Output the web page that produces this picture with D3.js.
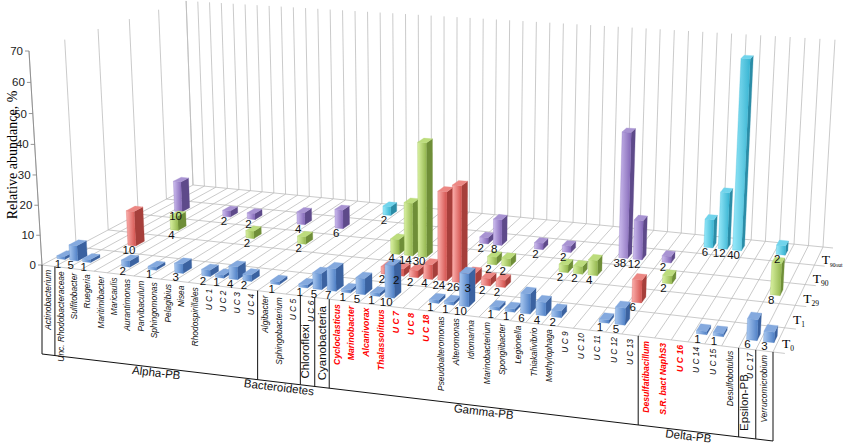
<!DOCTYPE html>
<html>
<head>
<meta charset="utf-8">
<script src="https://cdn.jsdelivr.net/npm/d3@7"></script>
<style>
  body { margin: 0; background: #fff; }
  svg { display: block; font-family: "Liberation Sans", Arial, sans-serif; }
</style>
</head>
<body>
<div id="chart"></div>
<script>
// ========================
// Data
// ========================
const categories = ["Actinobacterium", "Unc. Rhodobacteraceae", "Sulfitobacter", "Ruegeria", "Maritimibacter",
  "Maricaulis", "Aurantimonas", "Parvibaculum", "Sphingomonas", "Pelagibius", "Nisea", "Rhodospirillales",
  "U C 1", "U C 2", "U C 3", "U C 4", "Algibacter", "Sphingobacterium", "U C 5", "U C 6", "",
  "Cycloclasticus", "Marinobacter", "Alcanivorax", "Thalassolituus", "U C 7", "U C 8", "U C 18",
  "Pseudoalteromonas", "Alteromonas", "Idiomarina", "Marinobacterium", "Spongiibacter", "Legionella",
  "Thiakalivibrio", "Methylophaga", "U C 9", "U C 10", "U C 11", "U C 12", "U C 13",
  "Desulfatibacillum", "S.R. bact NaphS3", "U C 16", "U C 14", "U C 15", "Desulfobotulus", "U C 17",
  "Verrucomicrobium"];

const highlighted = ["Cycloclasticus", "Marinobacter", "Alcanivorax", "Thalassolituus", "U C 7", "U C 8",
  "U C 18", "Desulfatibacillum", "S.R. bact NaphS3", "U C 16"];

const seriesNames = ["T0", "T1", "T29", "T90", "T90out"];
const seriesSub = ["0", "1", "29", "90", "90out"];

// numbers written on the bars
const countT0 = [1,5,1,0,0,2,0,1,0,3, 0,2,1,4,2,0,1,0,1,5, 7,1,5,1,10,0,0,1,1,10, 0,1,1,6,4,2,0,0,1,5, 0,0,0,0,1,1,0,6,3];
const countT1 = [0,0,0,10,0,0,0,0,0,0, 0,0,0,0,0,0,0,0,0,0, 0,0,2,2,2,4,24,26,3,2, 2,0,0,0,0,0,0,0,0,6, 0,0,0,0,0,0,0,0,0];
const countT29 = [0,0,0,0,4,0,0,0,0,0, 2,0,0,0,2,0,0,0,0,0, 0,4,14,30,0,0,0,0,2,2, 0,0,0,2,2,4,0,0,0,0, 2,0,0,0,0,0,0,8,0];
const countT90 = [0,0,10,0,0,0,2,0,2,0, 0,0,4,0,0,6,0,0,0,0, 0,0,0,0,0,0,2,8,0,0, 2,0,2,0,0,0,38,12,0,2, 0,0,0,0,0,0,0,0,0];
const countT90out = [0,0,0,0,0,0,0,0,0,0, 0,0,0,0,0,0,0,2,0,0, 0,0,0,0,0,0,0,0,0,0, 0,0,0,0,0,0,0,0,0,0, 0,6,12,40,0,0,2,0,0];

// bar heights, relative abundance %
const pctT0 = [1.0,5.2,1.0,0,0,2.1,0,1.0,0,3.1, 0,2.1,1.0,4.2,2.1,0,1.0,0,1.0,5.2, 7.3,1.0,5.2,1.0,10.4,0,0,1.0,1.0,10.4, 0,1.0,1.0,6.3,4.2,2.1,0,0,1.0,5.2, 0,0,0,0,1.0,1.0,0,6.3,3.1];
const pctT1 = [0,0,0,12.0,0,0,0,0,0,0, 0,0,0,0,0,0,0,0,0,0, 0,0,2.4,2.4,2.4,4.8,28.9,31.3,3.6,2.4, 2.4,0,0,0,0,0,0,0,0,7.2, 0,0,0,0,0,0,0,0,0];
const pctT29 = [0,0,0,0,5.1,0,0,0,0,0, 2.6,0,0,0,2.6,0,0,0,0,0, 0,5.1,17.9,38.5,0,0,0,0,2.6,2.6, 0,0,0,2.6,2.6,5.1,0,0,0,0, 2.6,0,0,0,0,0,0,10.3,0];
const pctT90 = [0,0,11.1,0,0,0,2.2,0,2.2,0, 0,0,4.4,0,0,6.7,0,0,0,0, 0,0,0,0,0,0,2.2,8.9,0,0, 2.2,0,2.2,0,0,0,42.2,13.3,0,2.2, 0,0,0,0,0,0,0,0,0];
const pctT90out = [0,0,0,0,0,0,0,0,0,0, 0,0,0,0,0,0,0,3.2,0,0, 0,0,0,0,0,0,0,0,0,0, 0,0,0,0,0,0,0,0,0,0, 0,9.7,19.4,64.5,0,0,3.2,0,0];

const valueTicks = [0, 10, 20, 30, 40, 50, 60, 70];

// phylum boxes under the category axis (category index ranges)
const groups = [
  { name: "", from: 0, to: 1 },
  { name: "Alpha-PB", from: 1, to: 16 },
  { name: "Bacteroidetes", from: 16, to: 19 },
  { name: "Chloroflexi", from: 19, to: 20, vertical: true, dx: -3 },
  { name: "Cyanobacteria", from: 20, to: 21, vertical: true, dx: 0 },
  { name: "Gamma-PB", from: 21, to: 41 },
  { name: "Delta-PB", from: 41, to: 47 },
  { name: "Epsilon-PB", from: 47, to: 48, vertical: true, dx: -3 },
  { name: "", from: 48, to: 49 }
];

const series = [
  { count: countT0, pct: pctT0, light: "#a9c8f0", base: "#4f80c6", side: "#3b62a0", top: "#84a9de" },
  { count: countT1, pct: pctT1, light: "#fbb0ad", base: "#d4524e", side: "#a63f3b", top: "#ec8783" },
  { count: countT29, pct: pctT29, light: "#daf2a2", base: "#93b64e", side: "#6f8e38", top: "#bcdc7c" },
  { count: countT90, pct: pctT90, light: "#cdbdef", base: "#8266b6", side: "#5e4a8a", top: "#a893d2" },
  { count: countT90out, pct: pctT90out, light: "#9aeafb", base: "#38b4d2", side: "#2b8ca6", top: "#70d4ec" }
];

// ========================
// Projection (perspective floor + vertical vanishing point)
// ========================
const fl = [42, 265], fr = [773, 352], br = [823, 247], bl = [193, 185];
const vp = [442, 6851];   // where the vertical lines meet, far below
const topY = 51;          // screen y of value 70 at the front-left corner

const dx1 = fr[0] - br[0], dx2 = bl[0] - br[0], dx3 = fl[0] - fr[0] + br[0] - bl[0];
const dy1 = fr[1] - br[1], dy2 = bl[1] - br[1], dy3 = fl[1] - fr[1] + br[1] - bl[1];
const den = dx1 * dy2 - dx2 * dy1;
const hg = (dx3 * dy2 - dx2 * dy3) / den, hh = (dx1 * dy3 - dx3 * dy1) / den;
const ha = fr[0] - fl[0] + hg * fr[0], hb = bl[0] - fl[0] + hh * bl[0], hc = fl[0];
const hd = fr[1] - fl[1] + hg * fr[1], he = bl[1] - fl[1] + hh * bl[1], hf = fl[1];
const lam = (topY - fl[1]) / (vp[1] - topY);

// u: along categories, v: depth (series), t: height 0..1
function P(u, v, t) {
  const w = hg * u + hh * v + 1 + lam * t;
  return [(ha * u + hb * v + hc + lam * t * vp[0]) / w,
          (hd * u + he * v + hf + lam * t * vp[1]) / w];
}

// ========================
// Scales
// ========================
const xBand = d3.scaleBand()
  .domain(d3.range(categories.length))
  .range([0, 1])
  .paddingInner(0.38)
  .paddingOuter(0.19);

const zBand = d3.scaleBand()
  .domain(seriesNames)
  .range([0, 1])
  .paddingInner(0.72)
  .paddingOuter(0.36);

const yScale = d3.scaleLinear().domain([0, 70]).range([0, 1]);

const xStep = xBand.step(), zStep = zBand.step();

// ========================
// Setup
// ========================
const svg = d3.select("#chart").append("svg")
  .attr("width", 843)
  .attr("height", 445);

const defs = svg.append("defs");
series.forEach((s, i) => {
  const gr = defs.append("linearGradient")
    .attr("id", "front" + i)
    .attr("x1", "0%").attr("x2", "100%").attr("y1", "0%").attr("y2", "0%");
  gr.append("stop").attr("offset", "0%").attr("stop-color", s.light);
  gr.append("stop").attr("offset", "100%").attr("stop-color", s.base);
});

const line = d3.line();
const poly = pts => "M" + pts.map(p => p.join(",")).join("L") + "Z";

// --- Walls and floor grid ---
const grid = svg.append("g")
  .attr("fill", "none")
  .attr("stroke", "#bcbcbc")
  .attr("stroke-width", 0.8);

d3.range(categories.length + 1).forEach(k => {
  const u = k * xStep;
  grid.append("path").attr("d", line([P(u, 1, 0), P(u, 1, 1)]));   // back wall
  grid.append("path").attr("d", line([P(u, 0, 0), P(u, 1, 0)]));   // floor
});

d3.range(seriesNames.length + 1).forEach(j => {
  const v = j * zStep;
  grid.append("path").attr("d", line([P(0, v, 0), P(0, v, 1)]));   // left wall
  grid.append("path").attr("d", line([P(0, v, 0), P(1.014, v, 0)])); // floor + tick
});

// --- Value axis ---
const axis = svg.append("g");
axis.append("path")
  .attr("d", line([P(0, 0, 0), P(0, 0, 1)]))
  .attr("stroke", "#8a8a8a").attr("stroke-width", 0.9).attr("fill", "none");

valueTicks.forEach(t => {
  const p = P(0, 0, yScale(t));
  axis.append("path")
    .attr("d", line([p, [p[0] - 4, p[1]]]))
    .attr("stroke", "#8a8a8a").attr("stroke-width", 0.9);
  axis.append("text")
    .attr("x", p[0] - 6)
    .attr("y", p[1])
    .attr("dy", "0.35em")
    .attr("text-anchor", "end")
    .style("font-size", "11.5px")
    .attr("fill", "#222")
    .text(t);
});

svg.append("text")
  .attr("transform", "translate(17,155) rotate(-90)")
  .attr("text-anchor", "middle")
  .style("font-family", "'Liberation Serif', 'Times New Roman', serif")
  .style("font-size", "14px")
  .text("Relative abundance, %");

// --- Depth axis labels (T0 ... T90out) ---
seriesNames.forEach((name, j) => {
  const p = P(1, zBand(name) + zBand.bandwidth() / 2, 0);
  const txt = svg.append("text")
    .attr("x", p[0] + 3)
    .attr("y", p[1] + 8)
    .style("font-family", "'Liberation Serif', 'Times New Roman', serif")
    .style("font-size", "13.5px");
  txt.append("tspan").text("T");
  txt.append("tspan")
    .attr("dy", 3)
    .style("font-size", name === "T90out" ? "5.5px" : "7.5px")
    .text(seriesSub[j]);
});

// --- Bars ---
const bars = [];
series.forEach((s, j) => {
  s.pct.forEach((p, k) => {
    if (p > 0) bars.push({ j, k, p, n: s.count[k] });
  });
});
bars.sort((A, B) => B.j - A.j || A.k - B.k);

const barG = svg.append("g");
bars.forEach(d => {
  const s = series[d.j];
  const u0 = xBand(d.k), u1 = u0 + xBand.bandwidth();
  const v0 = zBand(seriesNames[d.j]), v1 = v0 + zBand.bandwidth();
  const t = yScale(d.p);
  const g = barG.append("g");
  g.append("path")
    .attr("d", poly([P(u1, v0, 0), P(u1, v1, 0), P(u1, v1, t), P(u1, v0, t)]))
    .attr("fill", s.side).attr("stroke", s.side).attr("stroke-width", 0.3);
  g.append("path")
    .attr("d", poly([P(u0, v0, 0), P(u1, v0, 0), P(u1, v0, t), P(u0, v0, t)]))
    .attr("fill", `url(#front${d.j})`).attr("stroke", s.base).attr("stroke-width", 0.3);
  g.append("path")
    .attr("d", poly([P(u0, v0, t), P(u1, v0, t), P(u1, v1, t), P(u0, v1, t)]))
    .attr("fill", s.top).attr("stroke", s.top).attr("stroke-width", 0.3);
});

// --- Data labels ---
const labelG = svg.append("g");
bars.forEach(d => {
  const p = P(xBand(d.k), zBand(seriesNames[d.j]), 0);
  labelG.append("text")
    .attr("x", p[0] + 1)
    .attr("y", p[1] + 9)
    .attr("text-anchor", "middle")
    .style("font-size", "11.5px")
    .attr("fill", "#111")
    .text(d.n);
});

// --- Category labels ---
const catG = svg.append("g");
categories.forEach((name, k) => {
  if (!name) return;
  const p = P(xBand(k) + xBand.bandwidth() / 2, 0, 0);
  const hi = highlighted.includes(name);
  const dx = name === "U C 6" ? 4 : name === "U C 17" ? 3 : 0;
  catG.append("text")
    .attr("transform", `translate(${p[0] + dx},${p[1] + 4}) rotate(-90)`)
    .attr("dy", "0.35em")
    .attr("text-anchor", "end")
    .style("font-size", hi ? "8.7px" : "8.4px")
    .style("font-style", "italic")
    .style("font-weight", hi ? "bold" : "normal")
    .attr("fill", hi ? "#ff0000" : "#111")
    .text(name);
});

// --- Group boxes ---
const drop = 89;
const boxG = svg.append("g").attr("stroke", "#111").attr("stroke-width", 1).attr("fill", "none");
const edge = k => P(k * xStep, 0, 0);
const bottom = k => { const p = edge(k); return [p[0], p[1] + drop]; };

boxG.append("path").attr("d", line([bottom(0), bottom(categories.length)]));
const bounds = Array.from(new Set(groups.flatMap(g => [g.from, g.to])));
bounds.forEach(k => {
  boxG.append("path").attr("d", line([edge(k), bottom(k)]));
});

const slope = Math.atan2(bottom(49)[1] - bottom(0)[1], bottom(49)[0] - bottom(0)[0]) * 180 / Math.PI;
groups.forEach(g => {
  if (!g.name) return;
  const a = bottom(g.from), b = bottom(g.to);
  const mx = (a[0] + b[0]) / 2, my = (a[1] + b[1]) / 2;
  if (g.vertical) {
    svg.append("text")
      .attr("transform", `translate(${mx + g.dx},${my - 7}) rotate(-90)`)
      .attr("dy", "0.35em")
      .attr("text-anchor", "start")
      .style("font-size", "11.5px")
      .attr("fill", "#111")
      .text(g.name);
  } else {
    svg.append("text")
      .attr("transform", `translate(${mx},${my + 5}) rotate(${slope})`)
      .attr("dy", "0.35em")
      .attr("text-anchor", "middle")
      .style("font-size", "11.5px")
      .attr("fill", "#111")
      .text(g.name);
  }
});
</script>
</body>
</html>
